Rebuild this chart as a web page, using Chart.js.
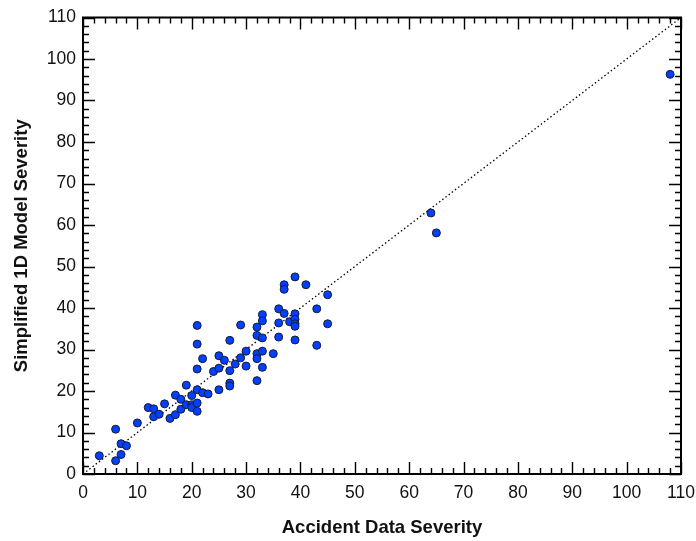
<!DOCTYPE html>
<html>
<head>
<meta charset="utf-8">
<script src="https://cdn.jsdelivr.net/npm/chart.js@4/dist/chart.umd.min.js"></script>
<style>
  body { margin: 0; background: #fff; }
  #wrap { width: 696px; height: 541px; }
</style>
</head>
<body>
<div id="wrap"><canvas id="sev" width="696" height="541"></canvas></div>
<script>
// accident data severity (x) vs simplified 1D model severity (y)
var accidentSeverity = [
  3, 6, 6, 7, 7, 8, 10, 12, 13, 13, 14, 15, 16, 17, 17, 18, 18, 19, 19, 20,
  20, 20, 21, 21, 21, 21, 21, 21, 22, 22, 23, 24, 25, 25, 25, 26, 27, 27, 27, 27,
  28, 29, 29, 30, 30, 32, 32, 32, 32, 32, 33, 33, 33, 33, 33, 35, 36, 36, 36, 37,
  37, 37, 38, 39, 39, 39, 39, 39, 39, 41, 43, 43, 45, 45, 64, 65, 108
];
var modelSeverity = [
  4.4, 10.8, 3.2, 7.3, 4.7, 6.8, 12.3, 16.0, 15.7, 13.8, 14.4, 16.9, 13.4, 14.3, 19.0, 15.6, 18.0, 21.4, 16.7, 18.9,
  16.7, 16.0, 35.8, 31.3, 25.3, 20.3, 17.1, 15.1, 27.8, 19.6, 19.3, 24.7, 28.5, 25.5, 20.3, 27.4, 32.2, 24.9, 21.9, 21.2,
  26.5, 35.9, 28.0, 29.6, 26.0, 35.4, 33.4, 29.0, 27.8, 22.5, 38.4, 36.9, 32.8, 29.6, 25.7, 29.0, 39.8, 36.4, 33.0, 45.6,
  44.5, 38.7, 36.7, 47.5, 38.6, 37.3, 36.2, 35.6, 32.3, 45.6, 39.8, 31.0, 43.2, 36.2, 62.9, 58.1, 96.3
];
var axisMin = 0, axisMax = 110, majorStep = 10, minorStep = 2;

var points = accidentSeverity.map(function(v, i) {
  return { x: v, y: modelSeverity[i] };
});

// frame on all four sides with ticks pointing into the plot
var frameTicks = {
  id: 'frameTicks',
  afterDatasetsDraw: function(chart) {
    var ctx = chart.ctx, a = chart.chartArea;
    var xs = chart.scales.x, ys = chart.scales.y;
    ctx.save();
    ctx.strokeStyle = '#000';
    ctx.lineWidth = 1.4;
    ctx.beginPath();
    for (var v = axisMin; v <= axisMax; v += minorStep) {
      var len = v % majorStep === 0 ? 12 : 6;
      var px = Math.round(xs.getPixelForValue(v)) + 0.5;
      var py = Math.round(ys.getPixelForValue(v)) + 0.5;
      ctx.moveTo(px, a.bottom); ctx.lineTo(px, a.bottom - len);
      ctx.moveTo(px, a.top); ctx.lineTo(px, a.top + len);
      ctx.moveTo(a.left, py); ctx.lineTo(a.left + len, py);
      ctx.moveTo(a.right, py); ctx.lineTo(a.right - len, py);
    }
    ctx.stroke();
    ctx.lineWidth = 2;
    ctx.strokeRect(a.left, a.top, a.right - a.left, a.bottom - a.top);
    ctx.restore();
  }
};

var tickFont = { family: "'Liberation Sans', Arial, sans-serif", size: 17.5 };
var titleFont = { family: "'Liberation Sans', Arial, sans-serif", size: 18.5, weight: 'bold' };

new Chart(document.getElementById('sev').getContext('2d'), {
  type: 'scatter',
  data: {
    datasets: [{
      label: 'cases',
      data: points,
      backgroundColor: 'rgb(0,64,255)',
      borderColor: '#1a1a2e',
      borderWidth: 1,
      pointRadius: 4,
      order: 1
    }, {
      type: 'line',
      label: 'y = x',
      data: [{ x: axisMin, y: axisMin }, { x: axisMax, y: axisMax }],
      borderColor: '#000',
      borderWidth: 1.3,
      borderDash: [1.5, 2.5],
      pointRadius: 0,
      fill: false,
      order: 2
    }]
  },
  options: {
    responsive: false,
    animation: false,
    layout: { padding: { top: 17, right: 0, left: 7, bottom: 0 } },
    plugins: { legend: { display: false }, tooltip: { enabled: false } },
    scales: {
      x: {
        type: 'linear',
        min: axisMin, max: axisMax,
        grid: { display: false, drawTicks: false },
        border: { display: false },
        ticks: { stepSize: majorStep, color: '#111', font: tickFont, padding: 9, maxRotation: 0 },
        title: { display: true, text: 'Accident Data Severity', color: '#111', font: titleFont, padding: { top: 0, bottom: 2 } },
        afterFit: function(s) { s.height = 67; s.paddingRight = 15; }
      },
      y: {
        type: 'linear',
        min: axisMin, max: axisMax,
        grid: { display: false, drawTicks: false },
        border: { display: false },
        ticks: { stepSize: majorStep, color: '#111', font: tickFont, padding: 7 },
        title: { display: true, text: 'Simplified 1D Model Severity', color: '#111', font: titleFont, padding: { top: 4, bottom: 0 } },
        afterFit: function(s) { s.width = 76; }
      }
    }
  },
  plugins: [frameTicks]
});
</script>
</body>
</html>
